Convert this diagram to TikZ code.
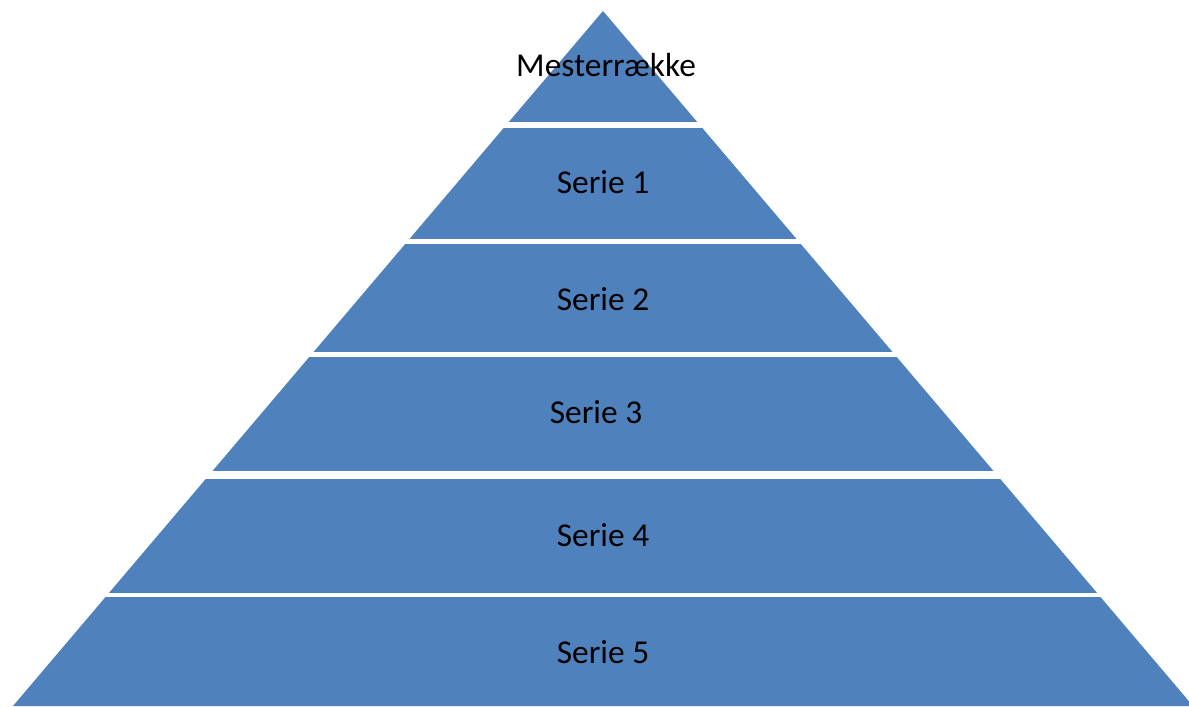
\documentclass[tikz,border=0pt]{standalone}
\usepackage{fontspec}
\setmainfont{Carlito}
\definecolor{tierblue}{HTML}{4F81BD}
\begin{document}
\begin{tikzpicture}
	[x=0.02cm, y=-0.02cm, tier/.style={fill=tierblue},
	 lbl/.style={font=\fontsize{19}{23}\selectfont, text=black}]
	\useasboundingbox (0,0) rectangle (1189,706);
	\coordinate (apex) at (603,11);
	\coordinate (baseL) at (13,706);
	\coordinate (baseR) at (1193,706);
	\begin{scope}
		\clip (apex) -- (baseL) -- (baseR) -- cycle;
		\foreach \a/\b in {0/121.7, 127.7/239, 244.3/352.3, 357.3/470.7, 479.3/592.7, 597.3/710}
			\fill[tier] (0,\a) rectangle (1189,\b);
	\end{scope}
	\node[lbl] (M) at (606,65) {Mesterrække};
	\node[lbl] (S1) at (603,182) {Serie 1};
	\node[lbl] (S2) at (603,299) {Serie 2};
	\node[lbl] (S3) at (596,412) {Serie 3};
	\node[lbl] (S4) at (603,535) {Serie 4};
	\node[lbl] (S5) at (603,652) {Serie 5};
\end{tikzpicture}
\end{document}
